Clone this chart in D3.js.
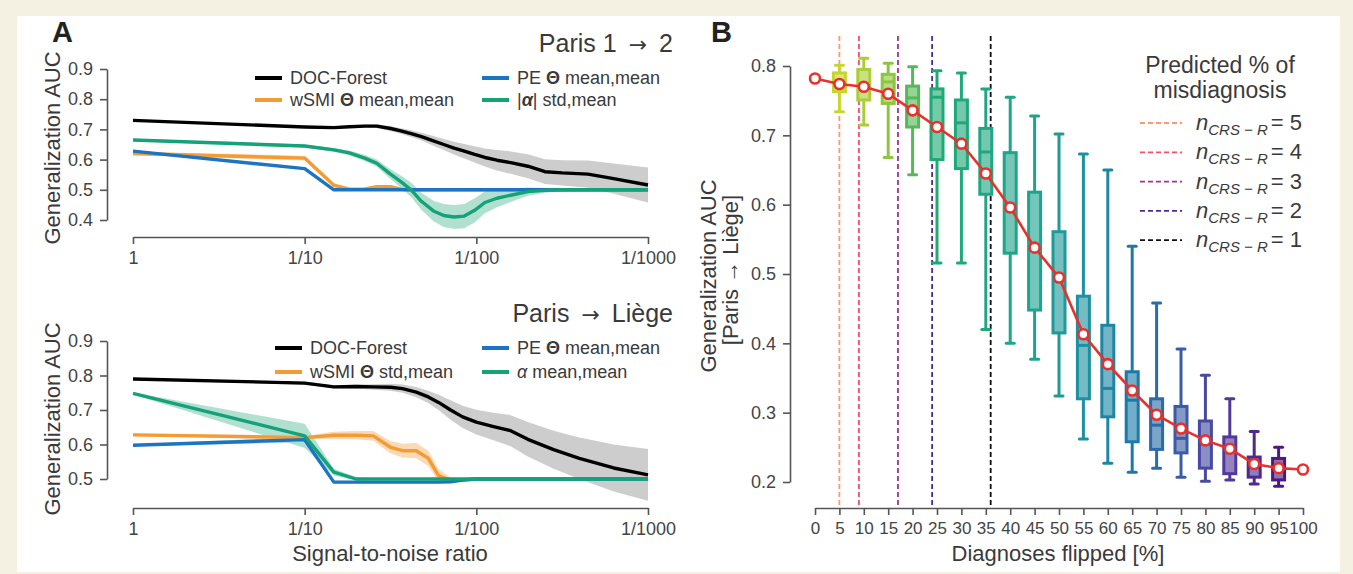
<!DOCTYPE html>
<html>
<head>
<meta charset="utf-8">
<script src="https://cdn.jsdelivr.net/npm/d3@7"></script>
<style>
  body { margin: 0; background: #f4f1e3; }
  svg { display: block; font-family: 'Liberation Sans', Arial, Helvetica, sans-serif; }
</style>
</head>
<body>
<svg id="chart" width="1353" height="574"></svg>
<script>
// ---- panel A: noise level in decades (0 -> SNR 1, 3 -> SNR 1/1000)
const snrTicks = [1, 0.1, 0.01, 0.001];
const snrTickLabels = ['1', '1/10', '1/100', '1/1000'];

const gridTop = [0, 1, 1.17, 1.26, 1.35, 1.42, 1.5, 1.56, 1.62, 1.68, 1.75, 1.81, 1.87, 1.93, 1.99, 2.05, 2.12, 2.2, 2.3, 2.4, 2.5, 2.65, 2.8, 3];
const topDoc = [.730, .708, .706, .709, .711, .711, .703, .695, .686, .676, .662, .650, .638, .628, .617, .607, .598, .590, .578, .560, .556, .552, .537, .516];
const topDocSd = [.003, .003, .004, .004, .005, .006, .008, .009, .011, .013, .016, .018, .021, .024, .027, .030, .034, .037, .040, .041, .042, .045, .050, .058];
const topWsmi = [.620, .605, .515, .502, .503, .510, .510, .502, .500, .500, .500, .500, .500, .500, .500, .500, .500, .500, .500, .500, .500, .500, .500, .500];
const topWsmiSd = [.006, .008, .006, .004, .004, .004, .004, .003, .002, .002, .002, .002, .002, .002, .002, .002, .002, .002, .002, .002, .002, .002, .002, .002];
const topPe = [.628, .570, .500, .500, .500, .500, .500, .500, .500, .500, .500, .500, .500, .500, .500, .500, .500, .500, .500, .500, .500, .500, .500, .500];
const topPeSd = [.003, .003, .002, .002, .002, .002, .002, .002, .002, .002, .002, .002, .002, .002, .002, .002, .002, .002, .002, .002, .002, .002, .002, .002];
const topAlpha = [.665, .645, .632, .622, .605, .588, .552, .527, .500, .462, .430, .415, .410, .413, .432, .458, .472, .482, .494, .498, .500, .500, .500, .500];
const topAlphaSd = [.004, .005, .006, .008, .010, .012, .016, .020, .024, .028, .034, .038, .040, .040, .040, .036, .030, .022, .014, .008, .005, .004, .003, .003];

const gridBottom = [0, 1, 1.17, 1.3, 1.4, 1.5, 1.57, 1.65, 1.72, 1.78, 1.85, 1.92, 2.0, 2.1, 2.2, 2.3, 2.45, 2.6, 2.8, 3];
const botDoc = [.790, .778, .767, .768, .767, .766, .762, .752, .738, .722, .700, .680, .665, .652, .640, .615, .585, .560, .532, .512];
const botDocSd = [.003, .004, .005, .006, .008, .010, .012, .015, .018, .022, .028, .032, .036, .040, .045, .050, .055, .060, .068, .075];
const botWsmi = [.628, .620, .627, .627, .625, .592, .582, .582, .560, .510, .496, .497, .500, .500, .500, .500, .500, .500, .500, .500];
const botWsmiSd = [.004, .005, .010, .012, .014, .018, .020, .022, .022, .018, .008, .004, .002, .002, .002, .002, .002, .002, .002, .002];
const botPe = [.598, .614, .491, .491, .491, .491, .491, .491, .491, .491, .492, .497, .500, .500, .500, .500, .500, .500, .500, .500];
const botPeSd = [.003, .008, .004, .003, .003, .003, .003, .003, .003, .003, .003, .003, .002, .002, .002, .002, .002, .002, .002, .002];
const botAlpha = [.748, .625, .520, .500, .500, .500, .500, .500, .500, .500, .500, .500, .500, .500, .500, .500, .500, .500, .500, .500];
const botAlphaSd = [.003, .035, .010, .005, .003, .003, .003, .003, .003, .003, .003, .003, .003, .003, .003, .003, .003, .003, .003, .003];

// ---- panel B
const flipPct = [0, 5, 10, 15, 20, 25, 30, 35, 40, 45, 50, 55, 60, 65, 70, 75, 80, 85, 90, 95, 100];
const meanAuc = [.782, .774, .770, .760, .736, .712, .688, .645, .596, .538, .495, .413, .370, .332, .297, .277, .260, .248, .226, .220, .218];
const boxPct = [5, 10, 15, 20, 25, 30, 35, 40, 45, 50, 55, 60, 65, 70, 75, 80, 85, 90, 95];
const whiskerHi = [.801, .811, .804, .799, .793, .790, .767, .755, .728, .702, .673, .650, .540, .458, .392, .354, .320, .273, .250];
const boxQ3 = [.790, .795, .788, .771, .767, .751, .710, .675, .618, .561, .468, .426, .359, .320, .309, .288, .265, .236, .234];
const boxMedian = [.776, .772, .777, .754, .755, .718, .676, .600, .540, .490, .397, .335, .318, .282, .263, .255, .245, .222, .218];
const boxQ1 = [.763, .751, .746, .712, .665, .652, .615, .530, .448, .415, .320, .294, .258, .247, .242, .220, .212, .207, .203];
const whiskerLo = [.734, .715, .668, .643, .516, .516, .420, .400, .377, .324, .262, .227, .214, .220, .207, .201, .203, .197, .194];
const misdiagPct = [5, 9, 17, 24, 36];
const misdiagN = [5, 4, 3, 2, 1];

const svg = d3.select('#chart');
const ink = '#3a3a3a',
  axisColor = '#555',
  seriesColor = { doc: '#000', wsmi: '#f39c34', pe: '#1b75c2', alpha: '#15a279' },
  bandColor = { doc: '#c4c4c4', wsmi: '#f9d2a8', pe: '#a9cdea', alpha: '#a3dbc9' },
  dashColor = ['#f99a6c', '#f2506c', '#a6329c', '#4a2b9c', '#111'],
  boxColor = d3.scaleLinear()
    .domain([5, 15, 25, 45, 55, 65, 75, 85, 95])
    .range(['#c6d62c', '#8cc63f', '#1faa74', '#1ea391', '#1e91a0', '#1b7aa8', '#3a5ba5', '#52389c', '#4a1b80']);

svg.append('rect').attr('x', 17).attr('y', 16).attr('width', 1323).attr('height', 556).attr('fill', '#fff');

const styleAxis = (g, size) => {
  g.select('.domain').attr('stroke', axisColor).attr('stroke-width', 1.6);
  g.selectAll('.tick line').attr('stroke', axisColor).attr('stroke-width', 1.6);
  g.selectAll('.tick text').attr('fill', '#444').style('font-size', size + 'px');
};

const x = d3.scaleLog().domain([1, 0.001]).range([133, 648]);

const drawPanelA = (cfg) => {
  const y = d3.scaleLinear().domain(cfg.yDomain).range(cfg.yRange);
  const g = svg.append('g');
  const ticks = d3.range(cfg.yDomain[0], cfg.yDomain[1] + 0.001, 0.1);

  g.append('g')
    .attr('transform', 'translate(107,0)')
    .call(d3.axisLeft(y).tickValues(ticks).tickFormat(d3.format('.1f')).tickSize(7).tickSizeOuter(0).tickPadding(7))
    .call(a => styleAxis(a, 18));
  g.append('g')
    .attr('transform', 'translate(0,' + cfg.xAxisY + ')')
    .call(d3.axisBottom(x).tickValues(snrTicks).tickFormat((d, i) => snrTickLabels[i]).tickSize(7).tickSizeOuter(0).tickPadding(7))
    .call(a => styleAxis(a, 18));

  const rows = (v, sd) => cfg.grid.map((d, i) => ({ snr: Math.pow(10, -d), v: v[i], sd: sd[i] }));
  const area = d3.area().x(d => x(d.snr)).y0(d => y(d.v - d.sd)).y1(d => y(d.v + d.sd));
  const line = d3.line().x(d => x(d.snr)).y(d => y(d.v));

  cfg.series.forEach(s => {
    g.append('path').datum(rows(s.v, s.sd)).attr('d', area)
      .attr('fill', bandColor[s.key]).attr('fill-opacity', 0.85);
  });
  cfg.series.forEach(s => {
    g.append('path').datum(rows(s.v, s.sd)).attr('d', line)
      .attr('fill', 'none').attr('stroke', seriesColor[s.key]).attr('stroke-width', 3.4)
      .attr('stroke-linejoin', 'round');
  });

  // legend, two columns
  cfg.series.forEach((s, i) => {
    const col = Math.floor(i / 2), row = i % 2;
    const lx = cfg.legendX[col], ly = cfg.legendY + row * cfg.legendDy;
    g.append('line').attr('x1', lx).attr('x2', lx + 27).attr('y1', ly).attr('y2', ly)
      .attr('stroke', seriesColor[s.key]).attr('stroke-width', 4);
    const t = g.append('text').attr('x', lx + 35).attr('y', ly + 6).attr('fill', ink).style('font-size', '18px');
    s.label.forEach(p => {
      const sp = t.append('tspan').text(p.t);
      if (p.b) sp.attr('font-weight', 'bold');
      if (p.i) sp.attr('font-style', 'italic');
    });
  });

  // title with a wider arrow glyph
  const title = g.append('text').attr('x', 673).attr('y', cfg.titleY).attr('text-anchor', 'end')
    .attr('fill', ink).style('font-size', '25px');
  title.append('tspan').text(cfg.title[0]);
  title.append('tspan').attr('dx', 12).style('font-family', "'DejaVu Sans'").style('font-size', '22px').text('\u2192');
  title.append('tspan').attr('dx', 12).text(cfg.title[1]);

  g.append('text')
    .attr('transform', 'translate(60,' + cfg.labelY + ') rotate(-90)')
    .attr('text-anchor', 'middle').attr('fill', ink).style('font-size', '22px')
    .text('Generalization AUC');
};

drawPanelA({
  yDomain: [0.4, 0.9], yRange: [220, 69], xAxisY: 237, grid: gridTop,
  title: ['Paris 1', '2'], titleY: 52, labelY: 148,
  legendX: [255, 482], legendY: 78, legendDy: 22,
  series: [
    { key: 'doc', v: topDoc, sd: topDocSd, label: [{ t: 'DOC-Forest' }] },
    { key: 'wsmi', v: topWsmi, sd: topWsmiSd, label: [{ t: 'wSMI ' }, { t: '\u0398', b: 1 }, { t: ' mean,mean' }] },
    { key: 'pe', v: topPe, sd: topPeSd, label: [{ t: 'PE ' }, { t: '\u0398', b: 1 }, { t: ' mean,mean' }] },
    { key: 'alpha', v: topAlpha, sd: topAlphaSd, label: [{ t: '|' }, { t: '\u03b1', b: 1, i: 1 }, { t: '| std,mean' }] }
  ]
});

drawPanelA({
  yDomain: [0.5, 0.9], yRange: [479, 341], xAxisY: 508, grid: gridBottom,
  title: ['Paris', 'Li\u00e8ge'], titleY: 322, labelY: 419,
  legendX: [275, 482], legendY: 348, legendDy: 24,
  series: [
    { key: 'doc', v: botDoc, sd: botDocSd, label: [{ t: 'DOC-Forest' }] },
    { key: 'wsmi', v: botWsmi, sd: botWsmiSd, label: [{ t: 'wSMI ' }, { t: '\u0398', b: 1 }, { t: ' std,mean' }] },
    { key: 'pe', v: botPe, sd: botPeSd, label: [{ t: 'PE ' }, { t: '\u0398', b: 1 }, { t: ' mean,mean' }] },
    { key: 'alpha', v: botAlpha, sd: botAlphaSd, label: [{ t: '\u03b1', i: 1 }, { t: ' mean,mean' }] }
  ]
});

svg.append('text').attr('x', 390).attr('y', 561).attr('text-anchor', 'middle')
  .attr('fill', ink).style('font-size', '22px').text('Signal-to-noise ratio');

// ---- panel B
const xb = d3.scaleLinear().domain([0, 100]).range([815, 1303]);
const yb = d3.scaleLinear().domain([0.2, 0.8]).range([482, 66]);
const gb = svg.append('g');

gb.append('g').attr('transform', 'translate(790,0)')
  .call(d3.axisLeft(yb).ticks(6).tickFormat(d3.format('.1f')).tickSize(7).tickSizeOuter(0).tickPadding(7))
  .call(a => styleAxis(a, 18));
gb.append('g').attr('transform', 'translate(0,508)')
  .call(d3.axisBottom(xb).tickValues(flipPct).tickFormat(d3.format('d')).tickSize(7).tickSizeOuter(0).tickPadding(7))
  .call(a => styleAxis(a, 17));

misdiagPct.forEach((p, i) => {
  gb.append('line').attr('x1', xb(p)).attr('x2', xb(p)).attr('y1', 36).attr('y2', 506)
    .attr('stroke', dashColor[i]).attr('stroke-width', 1.8).attr('stroke-dasharray', '5,3');
});

const boxes = boxPct.map((p, i) => ({
  p, hi: whiskerHi[i], q3: boxQ3[i], med: boxMedian[i], q1: boxQ1[i], lo: whiskerLo[i]
}));
const bw = 12, cw = 8;
const box = gb.selectAll('g.box').data(boxes).enter().append('g').attr('class', 'box');
box.append('line').attr('x1', d => xb(d.p)).attr('x2', d => xb(d.p))
  .attr('y1', d => yb(d.hi)).attr('y2', d => yb(d.lo))
  .attr('stroke', d => boxColor(d.p)).attr('stroke-width', 3);
['hi', 'lo'].forEach(k => {
  box.append('line').attr('x1', d => xb(d.p) - cw / 2).attr('x2', d => xb(d.p) + cw / 2)
    .attr('y1', d => yb(d[k])).attr('y2', d => yb(d[k]))
    .attr('stroke', d => boxColor(d.p)).attr('stroke-width', 3).attr('stroke-linecap', 'round');
});
box.append('rect').attr('x', d => xb(d.p) - bw / 2).attr('width', bw)
  .attr('y', d => yb(d.q3)).attr('height', d => yb(d.q1) - yb(d.q3))
  .attr('fill', '#fff').attr('stroke', 'none');
box.append('rect').attr('x', d => xb(d.p) - bw / 2).attr('width', bw)
  .attr('y', d => yb(d.q3)).attr('height', d => yb(d.q1) - yb(d.q3))
  .attr('fill', d => boxColor(d.p)).attr('fill-opacity', 0.62)
  .attr('stroke', d => boxColor(d.p)).attr('stroke-width', 3);
box.append('line').attr('x1', d => xb(d.p) - bw / 2).attr('x2', d => xb(d.p) + bw / 2)
  .attr('y1', d => yb(d.med)).attr('y2', d => yb(d.med))
  .attr('stroke', d => boxColor(d.p)).attr('stroke-width', 3);

const meanPts = flipPct.map((p, i) => ({ p, v: meanAuc[i] }));
gb.append('path').datum(meanPts)
  .attr('d', d3.line().x(d => xb(d.p)).y(d => yb(d.v)))
  .attr('fill', 'none').attr('stroke', '#e8302c').attr('stroke-width', 2.6);
gb.selectAll('circle.mean').data(meanPts).enter().append('circle').attr('class', 'mean')
  .attr('cx', d => xb(d.p)).attr('cy', d => yb(d.v)).attr('r', 5)
  .attr('fill', '#fff').attr('stroke', '#e8302c').attr('stroke-width', 2.6);

// legend B
gb.append('text').attr('x', 1220).attr('y', 73).attr('text-anchor', 'middle')
  .attr('fill', ink).style('font-size', '23px').text('Predicted % of');
gb.append('text').attr('x', 1220).attr('y', 98).attr('text-anchor', 'middle')
  .attr('fill', ink).style('font-size', '23px').text('misdiagnosis');
misdiagN.forEach((n, i) => {
  const ly = 123 + i * 29.3;
  gb.append('line').attr('x1', 1140).attr('x2', 1182).attr('y1', ly).attr('y2', ly)
    .attr('stroke', dashColor[i]).attr('stroke-width', 1.8).attr('stroke-dasharray', '5,3');
  const t = gb.append('text').attr('x', 1196).attr('y', ly + 7).attr('fill', ink).style('font-size', '22px');
  t.append('tspan').attr('font-style', 'italic').text('n');
  t.append('tspan').attr('font-style', 'italic').style('font-size', '15px').attr('dy', 5).text('CRS \u2212 R');
  t.append('tspan').attr('dy', -5).attr('dx', 3).text('= ' + n);
});

gb.append('text').attr('transform', 'translate(716,276) rotate(-90)').attr('text-anchor', 'middle')
  .attr('fill', ink).style('font-size', '22px').text('Generalization AUC');
gb.append('text').attr('transform', 'translate(738,270) rotate(-90)').attr('text-anchor', 'middle')
  .attr('fill', ink).style('font-size', '22px').text('[Paris \u2192 Li\u00e8ge]');
gb.append('text').attr('x', 1058).attr('y', 561).attr('text-anchor', 'middle')
  .attr('fill', ink).style('font-size', '22px').text('Diagnoses flipped [%]');

// panel letters
svg.append('text').attr('x', 52).attr('y', 42).attr('font-weight', 'bold').attr('fill', '#222')
  .style('font-size', '29px').text('A');
svg.append('text').attr('x', 711).attr('y', 42).attr('font-weight', 'bold').attr('fill', '#222')
  .style('font-size', '29px').text('B');
</script>
</body>
</html>
